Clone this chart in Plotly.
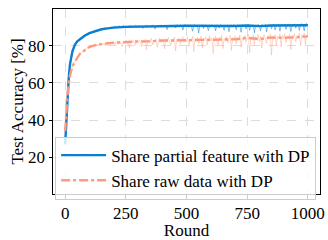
import plotly.graph_objects as go

raw_rounds = list(range(0, 1001, 5))

blue_raw = [
    27, 41, 55, 63, 70, 73.5, 77, 79, 80.5, 81.5, 82.3, 82.8, 83.3, 84, 84.5, 85.2, 85.3, 85.9, 86, 86.5,
    86.7, 87.2, 87.1, 87.7, 87.8, 88.2, 88, 88.6, 88.8, 88.5, 89.1, 89, 89.3, 89.5, 89.2, 89.6, 89.7, 89.4, 90, 89.8,
    90.2, 90.5, 89.9, 90.6, 90.3, 90.7, 90.1, 90.4, 90.8, 90.2, 90.5, 89.6, 90.7, 90.4, 90.9, 90.3, 90.6, 90.2, 91, 90.5,
    90.4, 90.8, 90.1, 90.6, 89.2, 90.7, 90.3, 91, 90.5, 90.2, 90.8, 90.4, 91.1, 90.6, 88.9, 90.7, 90.3, 90.9, 90.5, 91.2,
    90.6, 90.2, 91, 90.5, 88.6, 90.8, 90.4, 91.1, 90.7, 90.3, 90.9, 89.5, 91.2, 90.6, 90.4, 91, 90.7, 88.4, 90.9, 91.3,
    90.5, 90.9, 89.8, 91.1, 90.6, 87.8, 90.8, 91.2, 90.4, 90.9, 86.8, 91, 90.7, 91.3, 89.2, 90.8, 91.1, 90.5, 88.1, 91,
    90.6, 91.2, 90.3, 90.9, 87.9, 91.1, 90.7, 89.4, 91.3, 90.8, 90.4, 88.2, 91, 90.6, 91.2, 87.5, 90.9, 91.1, 90.5, 91.4,
    90.7, 88.6, 91.2, 90.8, 91, 87.2, 91.3, 90.6, 91.1, 89, 90.9, 91.4, 88.3, 91, 90.7, 91.2, 86.9, 91.1, 90.8, 91.5,
    90.9, 88, 91.3, 91, 90.6, 91.4, 87.4, 91.1, 90.8, 91.3, 89.1, 91, 91.5, 88.5, 91.2, 90.9, 91.4, 87.8, 91.1, 91.6,
    90.8, 91.3, 88.8, 91.1, 91.5, 90.9, 87.6, 91.4, 91, 91.7, 89.4, 91.2, 91.5, 88.2, 91.3, 91.8, 91, 87.9, 91.6, 91.9,
    91.2,
]

salmon_raw = [
    34, 44, 54, 60, 64, 66.5, 69, 70.5, 71.5, 72.5, 73.5, 74.5, 75.5, 76, 76.5, 77.5, 77, 78.3, 78.6, 78.8,
    79.4, 79.8, 79.2, 80.3, 80.3, 79.8, 80.9, 80.2, 81, 80.4, 81, 80.6, 81.4, 79.9, 81.3, 80.8, 81.6, 80.5, 81.9, 81.1,
    81.5, 80.3, 82.2, 81.2, 80.6, 82.4, 81, 79.4, 82.3, 81.6, 82.8, 80.9, 82.1, 78.6, 82.5, 81.4, 83, 81.8, 80.2, 82.6,
    81.3, 83.2, 82, 79.6, 82.7, 81.5, 83.4, 77.8, 82.2, 83, 81.7, 84, 80.4, 82.8, 82.1, 83.5, 79.2, 82.6, 84.2, 81.6,
    83.1, 82.3, 78.3, 83.6, 81.9, 84.4, 82.5, 80.1, 83.3, 82, 84.6, 77.2, 83.5, 82.4, 84, 80.8, 83.2, 84.8, 81.8, 83.7,
    82.2, 84.9, 79.5, 83.4, 82.6, 85, 76.8, 83.8, 82.4, 84.5, 81.2, 83.6, 85.2, 78.9, 84.1, 82.8, 84.7, 80.4, 83.9, 85.3,
    82.5, 84.2, 75.8, 83.7, 85.1, 82.9, 80.2, 84.6, 83.2, 85.5, 78.4, 84, 82.7, 85, 81.5, 83.9, 85.6, 77.5, 84.3, 83.1,
    85.2, 80.8, 84.5, 83.4, 85.8, 79.1, 84.1, 82.9, 85.4, 81.9, 84.8, 86, 76.2, 84.4, 83.3, 85.7, 80.5, 84.9, 83.6, 86.1,
    82.4, 85.1, 78.8, 84.6, 85.9, 83.2, 81.3, 85.4, 84, 86.2, 74.9, 84.7, 83.5, 85.8, 80.2, 85, 84.1, 86.3, 79.4, 85.5,
    83.8, 86.4, 81.6, 85.2, 84.3, 86, 77.9, 85.6, 84.5, 86.5, 82.1, 85.3, 84.8, 86.6, 79.8, 85.9, 84.4, 86.8, 80.6, 85.7,
    84.9,
]

smooth_rounds = [0, 2, 5, 10, 15, 20, 30, 40, 50, 60, 80, 100, 125, 150, 175, 200,
                 250, 300, 350, 400, 450, 500, 550, 600, 650, 700, 750, 800, 850, 900, 950, 1000]
blue_smooth = [27, 32, 41, 55, 63, 70, 77, 80.5, 82.3, 83.3, 85.3, 86.7, 87.8, 88.8, 89.3, 89.7,
               90.1, 90.3, 90.4, 90.5, 90.6, 90.7, 90.6, 90.5, 90.7, 90.6, 90.8, 90.5, 90.8, 90.9, 90.8, 91.0]
salmon_smooth = [34, 37, 44, 54, 60, 64, 69, 71.5, 73.5, 75.5, 77.5, 79.4, 80.3, 81, 81.3, 81.6,
                 82, 82.3, 82.3, 82.8, 82.8, 83, 83.2, 83.3, 83.6, 83.4, 84.2, 83.5, 84.4, 84.2, 84.5, 85]

labels = ["Share partial feature with DP", "Share raw data with DP"]
x_ticks = [0, 250, 500, 750, 1000]
y_ticks = [20, 40, 60, 80]

BLUE = "#0a7fd2"
SALMON = "#ff9a7c"

fig = go.Figure()
fig.add_trace(go.Scatter(x=raw_rounds, y=salmon_raw, mode="lines",
                         line=dict(color="rgba(255,154,124,0.4)", width=1),
                         showlegend=False, hoverinfo="skip"))
fig.add_trace(go.Scatter(x=raw_rounds, y=blue_raw, mode="lines",
                         line=dict(color="rgba(10,127,210,0.5)", width=1),
                         showlegend=False, hoverinfo="skip"))
fig.add_trace(go.Scatter(x=smooth_rounds, y=blue_smooth, mode="lines", name=labels[0],
                         line=dict(color=BLUE, width=2.4), legendgroup="a"))
fig.add_trace(go.Scatter(x=smooth_rounds, y=salmon_smooth, mode="lines", name=labels[1],
                         line=dict(color=SALMON, width=2.4, dash="9px,3px,3px,3px"), legendgroup="b"))

font = "Liberation Serif"
axis_common = dict(showline=True, linecolor="black", linewidth=1, mirror=True,
                   ticks="outside", ticklen=3.5, tickcolor="black",
                   showgrid=True, gridcolor="#dcdcdc", griddash="dash", gridwidth=0.8,
                   zeroline=False, ticklabeloverflow="allow",
                   tickfont=dict(size=17, color="black", family=font))

fig.update_layout(
    width=328, height=240,
    margin=dict(l=53, r=3, t=9, b=34),
    paper_bgcolor="white", plot_bgcolor="white",
    font=dict(family=font, size=17, color="black"),
    xaxis=dict(range=[-50, 1050], tickvals=x_ticks,
               title=dict(text="Round", standoff=2, font=dict(size=17, family=font)), **axis_common),
    yaxis=dict(range=[0.3, 99.7], tickvals=y_ticks,
               title=dict(text="Test Accuracy [%]", standoff=0, font=dict(size=17, family=font)), **axis_common),
    legend=dict(x=0.008, y=-0.03, xanchor="left", yanchor="bottom", itemwidth=45,
                bgcolor="rgba(255,255,255,0.8)", bordercolor="#cccccc", borderwidth=1,
                font=dict(size=17, family=font), tracegroupgap=0, traceorder="grouped"),
)

fig.write_html("out.html", config={"displayModeBar": False},
               post_script="document.body.style.margin='0';document.body.style.overflow='hidden';")
